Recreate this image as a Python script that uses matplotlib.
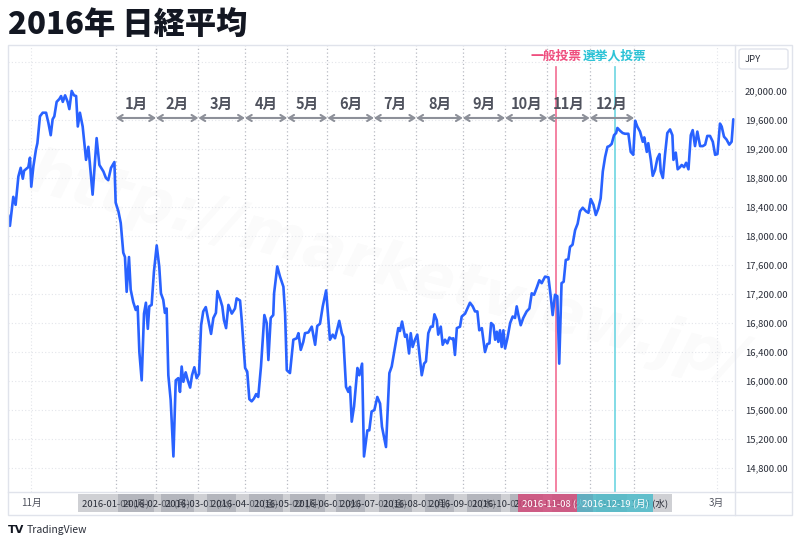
import matplotlib
matplotlib.use("Agg")
import matplotlib.pyplot as plt
from matplotlib.lines import Line2D
from matplotlib.patches import FancyBboxPatch, Rectangle
import numpy as np
import pandas as pd

plt.rcParams['font.family'] = ['Noto Sans CJK JP', 'DejaVu Sans']

# Nikkei 225 close, x = trading session counted from 2015-10-16
session = [
    0.1, 0.9, 2.5, 3.6, 4.9, 6.0, 7.0, 7.6, 9.6, 10.4,
    11.0, 12.0, 13.2, 13.9, 15.1, 16.4, 18.0, 19.1, 20.2, 21.1,
    21.9, 23.0, 24.3, 25.1, 25.9, 27.0, 28.2, 29.0, 30.1, 31.2,
    32.2, 33.0, 34.0, 35.3, 36.9, 38.0, 38.8, 40.0, 41.9, 43.2,
    45.1, 46.3, 47.4, 48.7, 50.3, 50.9, 52.2, 53.3, 54.5, 55.3,
    56.1, 57.2, 58.0, 59.2, 60.4, 61.3, 62.1, 63.2, 64.3, 65.2,
    66.1, 66.8, 67.9, 69.0, 70.3, 71.5, 72.3, 73.4, 74.2, 75.0,
    75.8, 76.9, 78.2, 79.3, 80.5, 81.3, 82.1, 82.9, 84.0, 85.0,
    86.1, 87.0, 88.1, 89.2, 90.3, 91.3, 92.3, 93.5, 94.7, 96.0,
    97.1, 98.3, 99.0, 100.2, 101.3, 102.1, 103.1, 104.2, 105.8, 107.3,
    108.1, 109.7, 110.5, 112.1, 113.1, 114.1, 115.2, 116.3, 117.3, 118.3,
    119.6, 121.2, 122.3, 123.1, 124.2, 125.4, 125.8, 127.3, 128.6, 130.2,
    131.0, 131.8, 133.3, 134.9, 136.5, 137.3, 138.4, 139.6, 140.4, 142.0,
    143.6, 145.2, 146.2, 147.5, 148.8, 150.4, 152.2, 153.5, 154.6, 156.6,
    157.8, 158.5, 159.8, 160.9, 161.7, 162.5, 163.6, 165.2, 166.1, 167.4,
    168.3, 169.9, 170.8, 171.9, 173.2, 174.6, 175.9, 176.8, 178.7, 180.3,
    181.4, 183.0, 184.5, 185.3, 186.3, 187.7, 188.5, 189.6, 190.4, 191.3,
    192.4, 193.5, 195.6, 196.7, 197.6, 198.7, 199.9, 200.8, 201.6, 202.7,
    203.4, 204.6, 205.5, 206.6, 207.7, 208.7, 209.8, 210.5, 211.3, 212.2,
    213.7, 214.5, 216.1, 217.2, 218.4, 219.7, 220.8, 221.9, 222.8, 224.0,
    225.5, 226.6, 227.6, 228.4, 229.5, 230.3, 231.1, 231.8, 232.6, 233.4,
    234.2, 235.0, 236.1, 237.4, 238.6, 239.7, 240.5, 241.3, 242.4, 243.6,
    245.2, 246.5, 247.6, 248.7, 250.0, 251.2, 252.3, 253.9, 255.5, 256.6,
    257.5, 258.6, 259.7, 260.6, 261.7, 262.7, 263.7, 264.9, 265.7, 266.9,
    268.1, 269.3, 270.4, 271.7, 273.3, 274.4, 275.5, 276.8, 277.9, 279.1,
    280.2, 281.2, 282.3, 283.4, 284.3, 285.4, 286.5, 287.5, 288.1, 289.4,
    290.6, 291.7, 293.3, 294.4, 295.6, 296.5, 297.5, 298.8, 300.1, 300.8,
    302.0, 302.7, 303.9, 304.8, 305.9, 307.0, 308.0, 308.6, 309.6, 310.6,
    311.7, 313.0, 314.1, 314.6, 315.7, 316.6, 317.7, 318.5, 319.6, 320.6,
    321.7, 322.8, 323.7, 324.8, 325.9, 327.2, 328.5, 329.6, 330.6, 331.9,
    333.2, 334.3, 335.4, 336.6, 337.4, 338.5, 339.7, 341.0, 342.1, 342.9,
]
close = [
    18290, 18140, 18540, 18430, 18820, 18940, 18790, 18900, 18950, 19080,
    18680, 18960, 19190, 19280, 19650, 19700, 19700, 19560, 19390, 19610,
    19650, 19850, 19890, 19930, 19850, 19940, 19850, 19750, 20000, 19940,
    19930, 19510, 19700, 19510, 19050, 19230, 18960, 18570, 19350, 18980,
    18890, 18800, 18770, 18940, 19020, 18460, 18340, 18180, 17770, 17710,
    17230, 17710, 17260, 17090, 16980, 17030, 16400, 16010, 16930, 17080,
    16720, 17030, 17050, 17510, 17870, 17580, 17210, 17120, 16940, 17000,
    16080, 15740, 14960, 16010, 16040, 15850, 16200, 15990, 16120, 16010,
    15910, 16080, 16190, 16040, 16100, 16770, 16960, 17020, 16840, 16650,
    16870, 16940, 17240, 17140, 17030, 16840, 16730, 17050, 16930, 17000,
    17140, 17110, 16840, 16180, 16130, 15750, 15720, 15760, 15820, 15780,
    16200, 16910, 16800, 16290, 16870, 16910, 17210, 17580, 17440, 17300,
    16930, 16150, 16110, 16570, 16590, 16660, 16430, 16540, 16660, 16670,
    16750, 16500, 16760, 16790, 17030, 17250, 16570, 16640, 16590, 16830,
    16660, 16610, 15920, 15850, 15920, 15440, 15650, 16180, 16080, 16240,
    14960, 15320, 15320, 15580, 15600, 15780, 15690, 15370, 15090, 16110,
    16200, 16470, 16730, 16690, 16820, 16610, 16640, 16380, 16660, 16470,
    16570, 16640, 16080, 16240, 16270, 16660, 16750, 16750, 16920, 16840,
    16640, 16750, 16500, 16570, 16520, 16600, 16580, 16590, 16360, 16730,
    16750, 16890, 16930, 17000, 17080, 17030, 16960, 16960, 16700, 16730,
    16400, 16510, 16520, 16800, 16770, 16570, 16680, 16540, 16700, 16470,
    16700, 16450, 16590, 16800, 16890, 16870, 17030, 16910, 16770, 16870,
    16960, 17000, 17210, 17190, 17290, 17390, 17350, 17440, 17430, 17160,
    16910, 17190, 17170, 16240, 17350, 17370, 17670, 17680, 17850, 17880,
    18080, 18170, 18340, 18390, 18340, 18320, 18510, 18430, 18290, 18380,
    18520, 18890, 19090, 19230, 19240, 19270, 19390, 19420, 19490, 19450,
    19420, 19410, 19410, 19160, 19120, 19590, 19510, 19440, 19300, 19360,
    19160, 19280, 19050, 18830, 18910, 19070, 19130, 18890, 18800, 19120,
    19420, 19470, 19390, 19050, 19150, 18920, 18950, 18980, 18950, 19010,
    18920, 19390, 19460, 19240, 19440, 19240, 19240, 19260, 19380, 19380,
    19300, 19120, 19130, 19550, 19510, 19370, 19330, 19260, 19300, 19610,
]

first_session = '2015-10-16'
# weekdays on which the Tokyo exchange was closed
tse_holidays = [
    '2015-11-03', '2015-11-23', '2015-12-23', '2015-12-31',
    '2016-01-01', '2016-01-11', '2016-02-11', '2016-03-21', '2016-04-29',
    '2016-05-03', '2016-05-04', '2016-05-05', '2016-07-18', '2016-08-11',
    '2016-09-19', '2016-09-22', '2016-10-10', '2016-11-03', '2016-11-23',
    '2016-12-23', '2017-01-02', '2017-01-03', '2017-01-09', '2017-03-20',
]
month_starts = ['2016-01-04', '2016-02-01', '2016-03-01', '2016-04-01',
                '2016-05-02', '2016-06-01', '2016-07-01', '2016-08-01',
                '2016-09-01', '2016-10-03', '2016-11-01', '2016-12-01',
                '2017-01-04']
month_names = ['1月', '2月', '3月', '4月', '5月', '6月',
               '7月', '8月', '9月', '10月', '11月', '12月']
axis_dates = ['2015-11-02', '2017-03-01']
axis_names = ['11月', '3月']
vote_dates = ['2016-11-08', '2016-12-19']
vote_names = ['一般投票', '選挙人投票']
vote_line_colors = ['#f26d92', '#6dd5e2']
vote_text_colors = ['#ef4f7f', '#2cc3d6']
vote_box_colors = ['#d24d7c', '#4fbccb']
price_ticks = [14800, 15200, 15600, 16000, 16400, 16800, 17200, 17600,
               18000, 18400, 18800, 19200, 19600, 20000, 20400]
weekday_jp = ['月', '火', '水', '木', '金', '土', '日']


def to_session(dates):
    return np.busday_count(first_session, dates, holidays=tse_holidays)


def with_weekday(d):
    return f"{d} ({weekday_jp[pd.Timestamp(d).dayofweek]})"


month_pos = to_session(month_starts)
axis_pos = to_session(axis_dates)
vote_pos = to_session(vote_dates)

W, H = 800, 544
fig = plt.figure(figsize=(8, 5.44), dpi=100)
fig.patch.set_facecolor('white')

# plot area in pixels: x 8..735, y 45..492
ax = fig.add_axes([8 / W, 1 - 492 / H, (735 - 8) / W, (492 - 45) / H])
ax.set_xlim(0, 343.7)
ax.set_ylim(14470, 20634)
for s in ax.spines.values():
    s.set_visible(False)

ax.plot(session, close, color='#2962ff', lw=1.9, zorder=4,
        solid_joinstyle='round', solid_capstyle='round')

# price axis on the right
ax.yaxis.tick_right()
ax.set_yticks(price_ticks)
ax.set_yticklabels([f"{v:,.2f}" if v <= 20000 else '' for v in price_ticks])
ax.tick_params(axis='y', length=0, pad=7, labelsize=6.8, labelcolor='#2a2e39')
ax.set_xticks([])
ax.grid(axis='y', color='#e3e5ea', lw=0.8, ls=(0, (1, 2)))

# month separators and ranges
xt = ax.get_xaxis_transform()
for p in axis_pos:
    ax.axvline(p, color='#e3e5ea', lw=0.8, ls=(0, (1, 2)), zorder=1)
for p in month_pos:
    ax.axvline(p, color='#b8bbc3', lw=0.9, ls=(0, (1, 2)), zorder=1)
for i, name in enumerate(month_names):
    a, b = month_pos[i], month_pos[i + 1]
    ax.annotate('', xy=(b, 0.8367), xytext=(a, 0.8367), xycoords=xt,
                textcoords=xt,
                arrowprops=dict(arrowstyle='<->,head_length=0.35,head_width=0.22',
                                color='#8d9099', lw=1.5, shrinkA=0, shrinkB=0))
    ax.text((a + b) / 2, 0.869, name, transform=xt, ha='center', va='center',
            fontsize=10.5, fontweight='bold', color='#50535e')

# election day lines
for p, name, lc, tc in zip(vote_pos, vote_names, vote_line_colors,
                           vote_text_colors):
    ax.axvline(p, ymax=0.951, color=lc, lw=1.2, zorder=2)
    ax.text(p, 0.975, name, transform=xt, ha='center', va='center',
            fontsize=9.2, fontweight='bold', color=tc)

# faint watermark
ax.text(0.52, 0.5, 'http://marketview.jp/', transform=ax.transAxes,
        ha='center', va='center', rotation=-15, fontsize=45,
        fontweight='bold', fontstyle='italic', family='DejaVu Sans',
        color='#000000', alpha=0.02, zorder=0)

# time axis strip
ys = -0.0246
for p, name in zip(axis_pos, axis_names):
    ax.text(p, ys, name, transform=xt, ha='center', va='center',
            fontsize=7, color='#50535e', clip_on=False)
for d, p in zip(month_starts, month_pos):
    ax.text(p, ys, with_weekday(d), transform=xt, ha='center', va='center',
            fontsize=6.8, color='#2a2e39', clip_on=False,
            bbox=dict(boxstyle='square,pad=0.45', fc='#9598a1', ec='none',
                      alpha=0.45))
for d, p, bc in zip(vote_dates, vote_pos, vote_box_colors):
    ax.text(p, ys, with_weekday(d), transform=xt, ha='center', va='center',
            fontsize=6.8, color='white', clip_on=False,
            bbox=dict(boxstyle='square,pad=0.45', fc=bc, ec='none',
                      alpha=0.85))

# chart frame
fc = '#e0e3eb'
fig.add_artist(Rectangle((8 / W, 1 - 515 / H), 784 / W, 470 / H,
                         transform=fig.transFigure, fill=False, ec=fc, lw=1))
fig.add_artist(Line2D([735 / W, 735 / W], [1 - 515 / H, 1 - 45 / H],
                      transform=fig.transFigure, color=fc, lw=1))
fig.add_artist(Line2D([8 / W, 792 / W], [1 - 492 / H, 1 - 492 / H],
                      transform=fig.transFigure, color=fc, lw=1))

# currency box
fig.add_artist(FancyBboxPatch((739 / W, 1 - 69 / H), 49 / W, 20 / H,
                              boxstyle='round,pad=0,rounding_size=0.004',
                              transform=fig.transFigure, fc='white',
                              ec='#e0e3eb', lw=1))
fig.text(745 / W, 1 - 59 / H, 'JPY', fontsize=6.8, color='#2a2e39',
         va='center')

# title and footer
fig.text(8 / W, 1 - 24 / H, '2016年 日経平均', fontsize=22.5,
         fontweight='black', color='#131722', va='center')
fig.text(8 / W, 1 - 530 / H, 'TV', fontsize=8, fontweight='black',
         color='#131722', va='center', family='DejaVu Sans')
fig.text(27 / W, 1 - 530 / H, 'TradingView', fontsize=7.5,
         color='#2a2e39', va='center')

fig.savefig('out.png', dpi=100, facecolor='white')
